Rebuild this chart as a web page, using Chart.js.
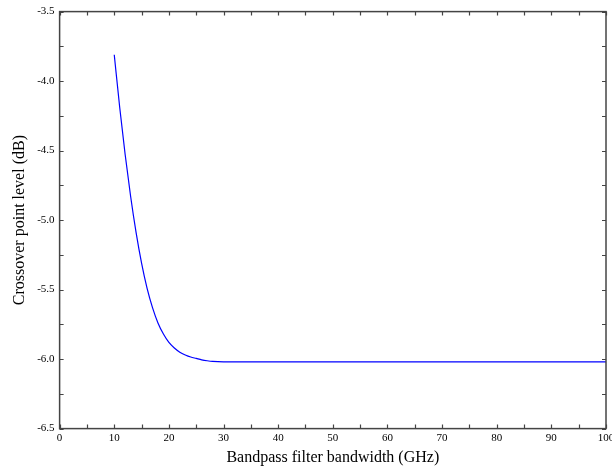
<!DOCTYPE html>
<html>
<head>
<meta charset="utf-8">
<script src="https://cdn.jsdelivr.net/npm/chart.js@4/dist/chart.umd.min.js"></script>
<style>
  html, body { margin: 0; padding: 0; background: #fff; }
  #wrap { width: 612px; height: 469px; }
</style>
</head>
<body>
<div id="wrap"><canvas id="chart" width="612" height="469"></canvas></div>
<script>
// Bandwidth (GHz) and crossover level (dB)
const bandwidth = [10, 11, 12, 13, 14, 15, 16, 17, 18, 19, 20, 21, 22, 23, 24, 25, 26, 27, 28, 30, 35, 40, 50, 60, 70, 80, 90, 100];
const crossover = [-3.81, -4.19, -4.53, -4.83, -5.09, -5.31, -5.49, -5.63, -5.74, -5.82, -5.88, -5.92, -5.95, -5.97, -5.985, -5.995, -6.005, -6.012, -6.017, -6.02, -6.02, -6.02, -6.02, -6.02, -6.02, -6.02, -6.02, -6.02];

const xMin = 0, xMax = 100, xStep = 10;
const yMin = -6.5, yMax = -3.5, yStep = 0.5;

const serif = '"Liberation Serif", "DejaVu Serif", serif';

// inward tick marks on all four sides plus the frame
const frameTicks = {
    id: 'frameTicks',
    afterDraw(chart) {
        const { ctx, chartArea: a, scales } = chart;
        ctx.save();
        ctx.strokeStyle = '#444';
        ctx.lineWidth = 1.2;
        ctx.beginPath();
        for (let v = xMin; v <= xMax + 1e-9; v += xStep / 2) {
            const px = Math.round(scales.x.getPixelForValue(v)) + 0.5;
            const len = 4;
            ctx.moveTo(px, a.bottom); ctx.lineTo(px, a.bottom - len);
            ctx.moveTo(px, a.top); ctx.lineTo(px, a.top + len);
        }
        for (let v = yMin; v <= yMax + 1e-9; v += yStep / 2) {
            const py = Math.round(scales.y.getPixelForValue(v)) + 0.5;
            const len = 4;
            ctx.moveTo(a.left, py); ctx.lineTo(a.left + len, py);
            ctx.moveTo(a.right, py); ctx.lineTo(a.right - len, py);
        }
        ctx.stroke();
        ctx.lineWidth = 1.5;
        ctx.strokeRect(a.left, a.top, a.right - a.left, a.bottom - a.top);
        ctx.restore();
    }
};

new Chart(document.getElementById('chart'), {
    type: 'line',
    data: {
        datasets: [{
            data: bandwidth.map((b, i) => ({ x: b, y: crossover[i] })),
            borderColor: '#0000ff',
            borderWidth: 1.2,
            pointRadius: 0,
            cubicInterpolationMode: 'monotone',
            fill: false
        }]
    },
    options: {
        responsive: false,
        animation: false,
        devicePixelRatio: 1,
        layout: { padding: { top: 6, right: 6, left: 10, bottom: 2 } },
        plugins: { legend: { display: false }, tooltip: { enabled: false } },
        scales: {
            x: {
                type: 'linear',
                min: xMin,
                max: xMax,
                grid: { display: false, drawTicks: false },
                border: { display: false },
                afterFit: s => { s.paddingRight = 0; s.paddingLeft = 0; },
                ticks: {
                    stepSize: xStep,
                    padding: 3,
                    color: '#000',
                    font: { family: serif, size: 11 }
                },
                title: {
                    display: true,
                    text: 'Bandpass filter bandwidth (GHz)',
                    color: '#000',
                    font: { family: serif, size: 16 },
                    padding: { top: 0, bottom: 0 }
                }
            },
            y: {
                min: yMin,
                max: yMax,
                grid: { display: false, drawTicks: false },
                border: { display: false },
                ticks: {
                    stepSize: yStep,
                    padding: 5,
                    color: '#000',
                    font: { family: serif, size: 11 },
                    callback: v => v.toFixed(1)
                },
                title: {
                    display: true,
                    text: 'Crossover point level (dB)',
                    color: '#000',
                    font: { family: serif, size: 16 },
                    padding: { top: 0, bottom: 3 }
                }
            }
        }
    },
    plugins: [frameTicks]
});
</script>
</body>
</html>
